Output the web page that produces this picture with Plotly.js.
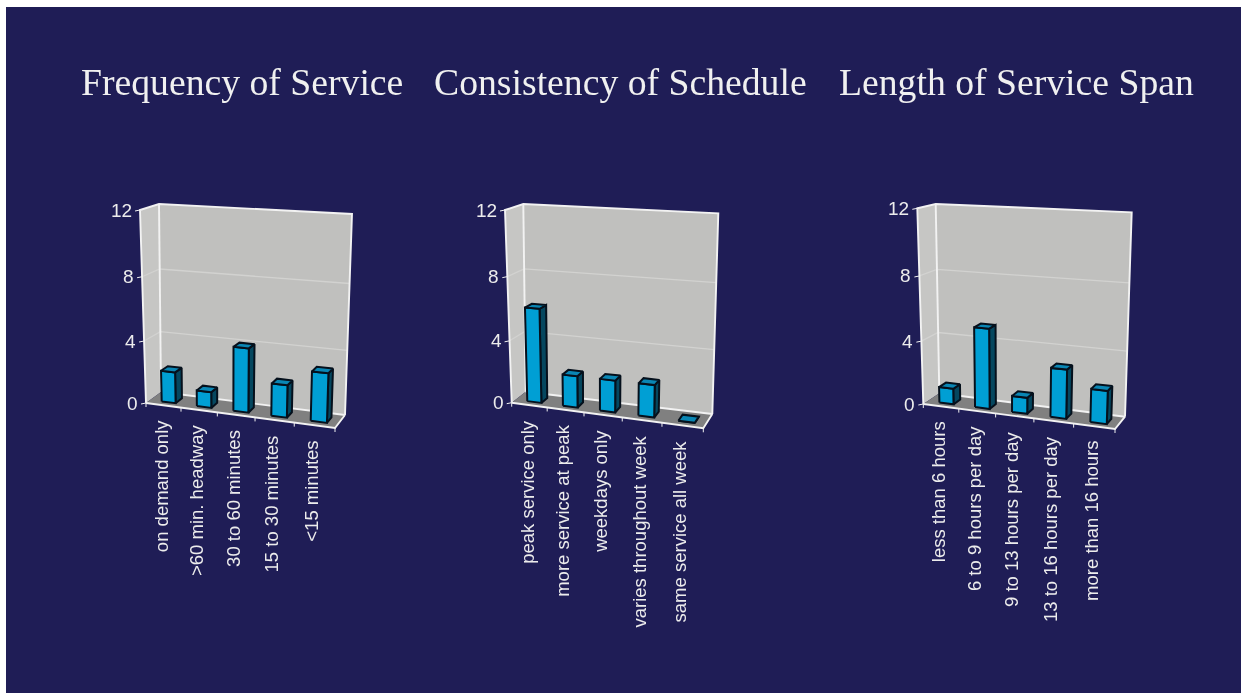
<!DOCTYPE html>
<html><head><meta charset="utf-8">
<script src="https://cdn.plot.ly/plotly-3.0.1.min.js"></script>
<style>html,body{margin:0;padding:0;background:#fff}#chart{width:1241px;height:693px;filter:blur(0.6px)}</style>
</head><body><div id="chart"></div>
<script>
// ---- data ----
const titles = ["Frequency of Service", "Consistency of Schedule", "Length of Service Span"];
const frequencyLabels = ["on demand only", ">60 min. headway", "30 to 60 minutes", "15 to 30 minutes", "<15 minutes"];
const frequencyValues = [2, 1, 4, 2, 3];
const consistencyLabels = ["peak service only", "more service at peak", "weekdays only", "varies throughout week", "same service all week"];
const consistencyValues = [6, 2, 2, 2, 0];
const spanLabels = ["less than 6 hours", "6 to 9 hours per day", "9 to 13 hours per day", "13 to 16 hours per day", "more than 16 hours"];
const spanValues = [1, 5, 1, 3, 2];
const valueTicks = [0, 4, 8, 12];
const valueMax = 12;

// ---- layout of the three pseudo-3D boxes (page pixels): f=front b=back, l/r, b(ottom)/t(op) ----
const boxes = [
  {titleX: 242, titleY: 82,
   flb:[146,403], flt:[140,210], frb:[335,428], frt:[342,217],
   blb:[161,392], blt:[159,204], brb:[345,415], brt:[352,214]},
  {titleX: 620.5, titleY: 82,
   flb:[511.7,402.7], flt:[505,210], frb:[703.3,428.3], frt:[710,216],
   blb:[525.7,391.7], blt:[523.3,204], brb:[712.3,414], brt:[718.3,213.3]},
  {titleX: 1016.5, titleY: 82,
   flb:[923.3,404], flt:[917.3,208.3], frb:[1115,429], frt:[1122,217],
   blb:[939.3,393.3], blt:[935.7,204], brb:[1125,416.7], brt:[1131.7,212.3]}
];
const panels = [
  {labels: frequencyLabels, values: frequencyValues},
  {labels: consistencyLabels, values: consistencyValues},
  {labels: spanLabels, values: spanValues}
];

const WALL = "#c0c0be", SIDEWALL = "#c6c6c4", FLOOR = "#808080", EDGE = "#f2f2f2", GRID = "#d2d2d0", TEXT = "#ececec";
const FRONT = "#009fd4", TOP = "#0a86b4", SIDE = "#05475f", OUTLINE = "#05101c";
const BARW = 0.40, BARSHIFT = 0.007, D0 = 0.28, D1 = 0.72;

const lerp = (a,b,t) => [a[0]+(b[0]-a[0])*t, a[1]+(b[1]-a[1])*t];
const warpV = t => t/(1+0.057*(1-t));
const warpU = u => u/(1+0.1*(1-u));
// u: 0..1 along categories, d: 0 front..1 back, value in chart units
function project(box,u,d,value){
  const t = warpV(value/valueMax), w = warpU(u);
  const fb = lerp(box.flb,box.frb,w), ft = lerp(box.flt,box.frt,w);
  const bb = lerp(box.blb,box.brb,w), bt = lerp(box.blt,box.brt,w);
  return lerp(lerp(fb,bb,d), lerp(ft,bt,d), t);
}
function poly(pts){ const x=[],y=[]; pts.forEach(p=>{x.push(p[0]);y.push(p[1]);}); x.push(pts[0][0]); y.push(pts[0][1]); return {x,y}; }
function joined(list){ const x=[],y=[]; list.forEach(p=>{x.push(...p.x,null);y.push(...p.y,null);}); return {x,y}; }
const filled = (g,fill,lineColor,w) => ({type:"scatter",mode:"lines",x:g.x,y:g.y,fill:"toself",fillcolor:fill,
  line:{color:lineColor,width:w},hoverinfo:"skip",showlegend:false});
const stroke = (g,c,w) => ({type:"scatter",mode:"lines",x:g.x,y:g.y,line:{color:c,width:w},hoverinfo:"skip",showlegend:false,connectgaps:false});

const traces = [], annotations = [];
panels.forEach((panel,pi)=>{
  const box = boxes[pi], n = panel.values.length;
  // walls and floor
  traces.push(filled(poly([box.flb,box.flt,box.blt,box.blb]),SIDEWALL,SIDEWALL,0));
  traces.push(filled(poly([box.blb,box.blt,box.brt,box.brb]),WALL,WALL,0));
  traces.push(filled(poly([box.flb,box.blb,box.brb,box.frb]),FLOOR,FLOOR,0));
  // gridlines
  const grid = valueTicks.filter(v=>v>0&&v<valueMax).map(v=>{
    const a=project(box,0,0,v), b=project(box,0,1,v), c=project(box,1,1,v);
    return {x:[a[0],b[0],c[0]],y:[a[1],b[1],c[1]]};
  });
  traces.push(stroke(joined(grid),GRID,1.3));
  // frame
  traces.push(stroke(joined([
    {x:[box.flb[0],box.flt[0],box.blt[0],box.brt[0],box.brb[0]],y:[box.flb[1],box.flt[1],box.blt[1],box.brt[1],box.brb[1]]},
    {x:[box.blt[0],box.blb[0]],y:[box.blt[1],box.blb[1]]},
    {x:[box.flb[0],box.frb[0],box.brb[0]],y:[box.flb[1],box.frb[1],box.brb[1]]},
    {x:[box.blb[0],box.brb[0]],y:[box.blb[1],box.brb[1]]}
  ]),EDGE,1.9));
  // tick marks
  const ticks = [];
  for(let i=0;i<=n;i++){ const p=project(box,i/n,0,0); ticks.push({x:[p[0],p[0]],y:[p[1],p[1]+4]}); }
  valueTicks.forEach(v=>{ const p=project(box,0,0,v); ticks.push({x:[p[0]-5,p[0]],y:[p[1]+1,p[1]]}); });
  traces.push(stroke(joined(ticks),EDGE,1));
  // bars
  const sides=[],tops=[],fronts=[];
  panel.values.forEach((v,i)=>{
    const u0=(i+0.5-BARW/2)/n+BARSHIFT, u1=(i+0.5+BARW/2)/n+BARSHIFT;
    const P=(u,d,val)=>project(box,u,d,val);
    sides.push(poly([P(u1,D0,0),P(u1,D1,0),P(u1,D1,v),P(u1,D0,v)]));
    fronts.push(poly([P(u0,D0,0),P(u1,D0,0),P(u1,D0,v),P(u0,D0,v)]));
    tops.push(poly([P(u0,D0,v),P(u1,D0,v),P(u1,D1,v),P(u0,D1,v)]));
  });
  traces.push(filled(joined(sides),SIDE,OUTLINE,2));
  traces.push(filled(joined(fronts),FRONT,OUTLINE,2));
  traces.push(filled(joined(tops),TOP,OUTLINE,2));
  // value tick labels
  valueTicks.forEach(v=>{
    const p=project(box,0,0,v);
    annotations.push({x:p[0]-6,y:p[1],xref:"x",yref:"y",text:String(v),showarrow:false,xanchor:"right",yanchor:"middle",
      font:{family:"Liberation Sans, Arial, sans-serif",size:19,color:TEXT}});
  });
  // category labels
  panel.labels.forEach((label,i)=>{
    const p=project(box,(i+0.5)/n,0,0);
    annotations.push({x:p[0]-2.5,y:p[1]+13,xref:"x",yref:"y",text:label.replace(/</g,"&lt;"),showarrow:false,textangle:-90,
      xanchor:"center",yanchor:"top",font:{family:"Liberation Sans, Arial, sans-serif",size:18.5,color:TEXT}});
  });
  // panel title
  annotations.push({x:box.titleX,y:box.titleY,xref:"x",yref:"y",text:titles[pi],showarrow:false,xanchor:"center",yanchor:"middle",
    font:{family:"Liberation Serif, Times New Roman, serif",size:37.7,color:"#f0f0f0"}});
});

const hidden = {visible:false,fixedrange:true};
const layout = {
  width:1241,height:693,margin:{l:0,r:0,t:0,b:0,pad:0},
  paper_bgcolor:"#ffffff",plot_bgcolor:"#ffffff",showlegend:false,
  xaxis:Object.assign({range:[0,1241],domain:[0,1]},hidden),
  yaxis:Object.assign({range:[693,0],domain:[0,1]},hidden),
  shapes:[{type:"rect",xref:"x",yref:"y",x0:6,x1:1241,y0:7,y1:693,fillcolor:"#1f1d56",line:{width:0},layer:"below"}],
  annotations
};
Plotly.newPlot("chart",traces,layout,{staticPlot:true,displayModeBar:false});
</script></body></html>
